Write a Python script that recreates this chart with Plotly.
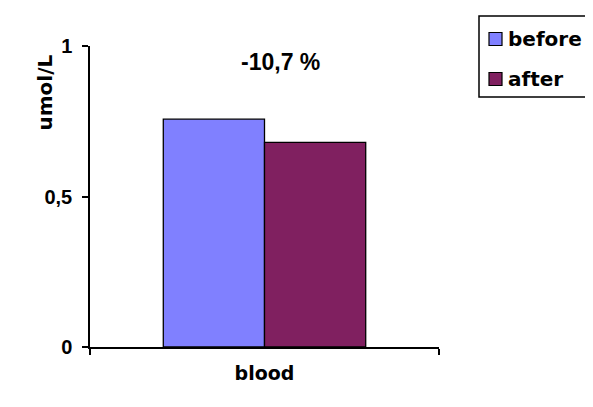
import plotly.graph_objects as go

categories = ["blood"]
series_names = ["before", "after"]
before_values = [0.757]
after_values = [0.680]
series_colors = ["#8080FF", "#802060"]
change_label = "-10,7 %"
y_tick_values = [0, 0.5, 1]
y_tick_labels = ["0", "0,5", "1"]
y_title = "umol/L"

arial = "Liberation Sans, Arial, sans-serif"
dejavu = "DejaVu Sans, Verdana, sans-serif"

# plot geometry (figure pixels)
L, T, W, HP = 82, 38, 349, 301
FW, FH = 593, 407


def px(fx):
    return (fx - L) / W


def py(fy):
    return 1 - (fy - T) / HP


fig = go.Figure()
for name, vals, col in zip(series_names, [before_values, after_values], series_colors):
    fig.add_trace(go.Bar(
        x=categories, y=vals, name=name,
        marker=dict(color=col, line=dict(color="#000000", width=1.3)),
    ))

fig.update_layout(
    width=FW, height=FH,
    margin=dict(l=L, r=FW - L - W, t=T, b=FH - T - HP, autoexpand=False),
    paper_bgcolor="#FFFFFF", plot_bgcolor="#FFFFFF",
    barmode="group", bargap=0.42, bargroupgap=0,
    font=dict(family=arial, size=17, color="#000000"),
    showlegend=False,
)
fig.update_xaxes(
    type="category", range=[-0.5, 0.5], tickson="boundaries",
    ticks="outside", ticklen=6, tickcolor="#000000", tickwidth=1.5,
    showline=True, linecolor="#000000", linewidth=1.5,
    showgrid=False, zeroline=False,
    tickfont=dict(family=dejavu, size=19, weight="bold"),
    ticklabelstandoff=8,
)
fig.update_yaxes(
    range=[0, 1], tickmode="array", tickvals=y_tick_values, ticktext=y_tick_labels,
    ticks="outside", ticklen=6, tickcolor="#000000", tickwidth=1.5,
    showline=True, linecolor="#000000", linewidth=1.5,
    showgrid=False, zeroline=False,
    tickfont=dict(family=arial, size=20, weight="bold"),
    ticklabelstandoff=6,
)
fig.add_annotation(
    text=change_label, x=px(272), y=py(54), xref="paper", yref="paper",
    xanchor="center", yanchor="middle",
    showarrow=False, font=dict(family=arial, size=23, weight="bold"),
)
fig.add_annotation(
    text=y_title, x=px(36.5), y=py(85), xref="paper", yref="paper",
    xanchor="center", yanchor="middle",
    textangle=-90, showarrow=False,
    font=dict(family=dejavu, size=20, weight="bold"),
)

# legend box drawn by hand to match the reference layout
fig.add_shape(type="rect", xref="paper", yref="paper",
              x0=px(471), x1=px(583), y0=py(8), y1=py(89),
              line=dict(color="#000000", width=1.5), fillcolor="rgba(0,0,0,0)")
legend_centers = [31, 71]
for name, col, cy in zip(series_names, series_colors, legend_centers):
    fig.add_shape(type="rect", xref="paper", yref="paper",
                  x0=px(481), x1=px(494), y0=py(cy - 6.5), y1=py(cy + 6.5),
                  line=dict(color="#000000", width=1.2), fillcolor=col)
    fig.add_annotation(text=name, x=px(498), y=py(cy), xref="paper", yref="paper",
                       xanchor="left", yanchor="middle", showarrow=False,
                       font=dict(family=dejavu, size=20, weight="bold"))

fig.write_html("out.html")
